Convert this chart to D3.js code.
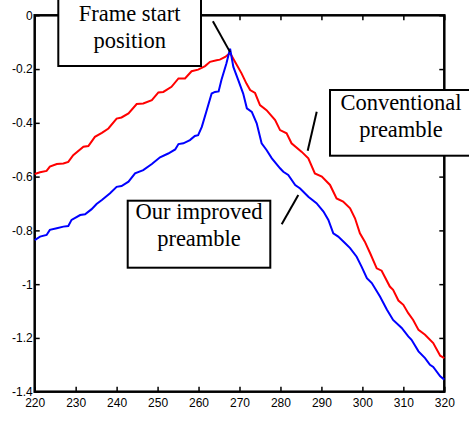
<!DOCTYPE html>
<html>
<head>
<meta charset="utf-8">
<script src="https://cdn.jsdelivr.net/npm/d3@7"></script>
<style>
  body { margin: 0; background: #fff; }
  .tick text { font-family: "Liberation Sans", Arial, sans-serif; font-size: 12px; fill: #000; }
  .tick line { stroke: #000; stroke-width: 1.5; }
  .note text { font-family: "Liberation Serif", "Times New Roman", serif; font-size: 22.5px; fill: #000; }
</style>
</head>
<body>
<div id="chart"></div>
<script>
const xTicks = [220, 230, 240, 250, 260, 270, 280, 290, 300, 310, 320];
const yTicks = [0, -0.2, -0.4, -0.6, -0.8, -1, -1.2, -1.4];

// conventional preamble (red)
const convX = [220.0,221.3,222.9,223.7,225.4,227.0,228.2,229.4,231.9,233.1,234.7,236.4,238.0,240.0,241.2,242.9,244.9,246.5,248.6,250.2,251.4,253.4,255.1,256.7,258.3,259.9,261.6,262.8,264.4,265.2,266.5,267.7,268.9,270.5,271.7,272.6,273.8,275.0,276.6,278.7,279.9,281.5,282.7,285.2,286.8,288.4,290.1,292.1,293.7,295.3,297.0,298.2,299.4,300.6,301.9,303.5,304.7,306.7,307.5,308.8,310.0,311.2,312.4,313.7,315.3,317.3,319.0,320.0];
const convY = [-0.590,-0.584,-0.579,-0.563,-0.553,-0.551,-0.545,-0.520,-0.489,-0.486,-0.452,-0.437,-0.421,-0.384,-0.380,-0.365,-0.330,-0.328,-0.316,-0.287,-0.285,-0.266,-0.235,-0.235,-0.208,-0.202,-0.189,-0.173,-0.167,-0.165,-0.155,-0.140,-0.173,-0.216,-0.254,-0.278,-0.289,-0.334,-0.353,-0.390,-0.427,-0.439,-0.476,-0.508,-0.532,-0.588,-0.600,-0.631,-0.681,-0.693,-0.718,-0.755,-0.811,-0.842,-0.885,-0.941,-0.950,-1.009,-1.021,-1.061,-1.077,-1.108,-1.133,-1.170,-1.188,-1.219,-1.266,-1.275];

// our improved preamble (blue)
const impX = [220.0,221.3,222.9,223.7,225.4,227.0,228.2,229.0,231.1,232.3,233.9,235.1,236.4,238.4,240.0,241.2,242.9,244.5,246.5,248.6,250.6,252.6,254.3,255.1,256.3,257.9,259.1,259.9,260.8,262.0,263.2,264.0,264.9,265.6,266.8,267.7,268.5,269.7,270.9,271.8,273.0,274.2,275.4,276.6,277.9,279.9,280.7,281.9,283.6,284.8,286.8,288.8,290.5,291.7,292.9,294.1,295.8,297.0,298.6,299.8,301.1,302.3,304.3,306.0,307.5,309.6,311.2,312.0,313.7,315.3,316.5,317.3,319.0,320.0];
const impY = [-0.836,-0.823,-0.817,-0.798,-0.792,-0.786,-0.784,-0.761,-0.743,-0.740,-0.721,-0.702,-0.687,-0.662,-0.638,-0.635,-0.619,-0.588,-0.576,-0.553,-0.528,-0.514,-0.499,-0.479,-0.476,-0.464,-0.449,-0.446,-0.415,-0.353,-0.291,-0.285,-0.283,-0.240,-0.179,-0.124,-0.192,-0.241,-0.291,-0.346,-0.359,-0.402,-0.476,-0.501,-0.532,-0.569,-0.582,-0.594,-0.631,-0.644,-0.675,-0.699,-0.730,-0.761,-0.811,-0.823,-0.848,-0.866,-0.898,-0.935,-0.978,-0.996,-1.046,-1.095,-1.133,-1.163,-1.194,-1.207,-1.250,-1.275,-1.300,-1.308,-1.343,-1.355];

const width = 469, height = 421;
const margin = { t: 15.3, l: 34.7, r: 24.7, b: 29.3 };
const inner_w = width - margin.l - margin.r;
const inner_h = height - margin.t - margin.b;

const svg = d3.select("#chart").append("svg")
  .attr("width", width).attr("height", height);

const x = d3.scaleLinear().domain([220, 320]).range([0, inner_w]);
const y = d3.scaleLinear().domain([-1.4, 0]).range([inner_h, 0]);

const g = svg.append("g").attr("transform", `translate(${margin.l},${margin.t})`);

const fmt = d => String(+d.toFixed(1));

g.append("g").attr("transform", `translate(0,${inner_h})`)
  .call(d3.axisBottom(x).tickValues(xTicks).tickSize(-5).tickSizeOuter(0).tickPadding(7))
  .call(a => a.select(".domain").remove());
g.append("g")
  .call(d3.axisLeft(y).tickValues(yTicks).tickFormat(fmt).tickSize(-5).tickSizeOuter(0).tickPadding(2))
  .call(a => a.select(".domain").remove());
g.append("g")
  .call(d3.axisTop(x).tickValues(xTicks).tickFormat("").tickSize(-5).tickSizeOuter(0))
  .call(a => a.select(".domain").remove());
g.append("g").attr("transform", `translate(${inner_w},0)`)
  .call(d3.axisRight(y).tickValues(yTicks).tickFormat("").tickSize(-5).tickSizeOuter(0))
  .call(a => a.select(".domain").remove());

g.append("rect").attr("width", inner_w).attr("height", inner_h)
  .attr("fill", "none").attr("stroke", "#000").attr("stroke-width", 2.5);

const line = d3.line().x(d => x(d[0])).y(d => y(d[1]));

g.append("path").datum(d3.zip(convX, convY))
  .attr("d", line).attr("fill", "none").attr("stroke", "#ff0000").attr("stroke-width", 2);
g.append("path").datum(d3.zip(impX, impY))
  .attr("d", line).attr("fill", "none").attr("stroke", "#0000ff").attr("stroke-width", 2);

// pointer lines, in data units
const pointers = [
  [[263.5, -0.022], [267.7, -0.137]],
  [[288.85, -0.359], [286.65, -0.504]],
  [[284.36, -0.668], [280.3, -0.777]]
];
g.selectAll(".ptr").data(pointers).enter().append("line")
  .attr("x1", d => x(d[0][0])).attr("y1", d => y(d[0][1]))
  .attr("x2", d => x(d[1][0])).attr("y2", d => y(d[1][1]))
  .attr("stroke", "#000").attr("stroke-width", 2);

// text boxes (page pixels)
const notes = [
  { x0: 58.3, y0: -3, x1: 201, y1: 66, lines: ["Frame start", "position"], base: 20.5 },
  { x0: 330, y0: 90, x1: 472, y1: 155.7, lines: ["Conventional", "preamble"], base: 110 },
  { x0: 127.7, y0: 200.7, x1: 270.3, y1: 267.7, lines: ["Our improved", "preamble"], base: 219.3 }
];
const note = svg.selectAll(".note").data(notes).enter().append("g").attr("class", "note");
note.append("rect")
  .attr("x", d => d.x0).attr("y", d => d.y0)
  .attr("width", d => d.x1 - d.x0).attr("height", d => d.y1 - d.y0)
  .attr("fill", "#fff").attr("stroke", "#000").attr("stroke-width", 2);
note.each(function(d) {
  const cx = (d.x0 + d.x1) / 2;
  d3.select(this).selectAll("text").data(d.lines).enter().append("text")
    .attr("x", cx).attr("y", (t, i) => d.base + i * 27)
    .attr("text-anchor", "middle").text(t => t);
});
</script>
</body>
</html>
